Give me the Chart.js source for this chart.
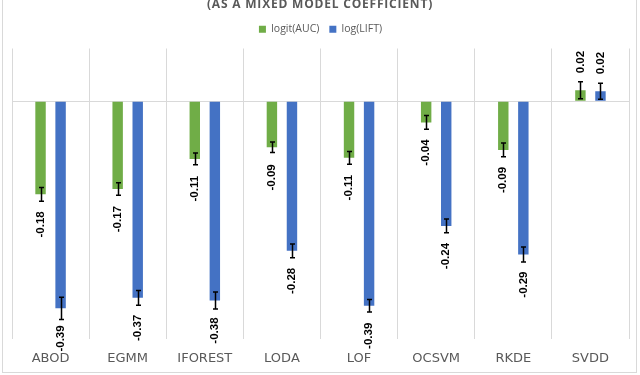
<!DOCTYPE html>
<html>
<head>
<meta charset="utf-8">
<script src="https://cdn.jsdelivr.net/npm/chart.js@4.4.1/dist/chart.umd.min.js"></script>
<style>
  html, body { margin: 0; padding: 0; background: #fff; }
  #wrap { position: relative; width: 640px; height: 375px; }
</style>
</head>
<body>
<div id="wrap"><canvas id="chart" width="640" height="375"></canvas></div>
<script>
const categories = ['ABOD', 'EGMM', 'IFOREST', 'LODA', 'LOF', 'OCSVM', 'RKDE', 'SVDD'];
const seriesNames = ['logit(AUC)', 'log(LIFT)'];
const aucValues = [-0.176, -0.166, -0.109, -0.087, -0.107, -0.040, -0.092, 0.021];
const aucErrors = [0.013, 0.012, 0.011, 0.010, 0.012, 0.013, 0.013, 0.016];
const liftValues = [-0.392, -0.372, -0.377, -0.283, -0.387, -0.236, -0.290, 0.019];
const liftErrors = [0.021, 0.014, 0.016, 0.013, 0.012, 0.013, 0.014, 0.015];
const titleText = '(AS A MIXED MODEL COEFFICIENT)';

const GREEN = '#70AD47';
const BLUE = '#4472C4';
const GRID = '#D9D9D9';
const TEXT = '#595959';

// title + outer frame of the chart
const frameAndTitle = {
    id: 'frameAndTitle',
    afterDraw(chart) {
        const ctx = chart.ctx;
        ctx.save();
        ctx.strokeStyle = GRID;
        ctx.lineWidth = 1;
        ctx.strokeRect(2.5, -2, 634, 374.5);
        ctx.fillStyle = TEXT;
        ctx.font = 'bold 12px "Open Sans"';
        ctx.letterSpacing = '0.8px';
        ctx.textAlign = 'center';
        ctx.textBaseline = 'alphabetic';
        ctx.fillText(titleText, 320, 8);
        ctx.restore();
    }
};

// extra room between legend and plot area
const legendSpacer = {
    id: 'legendSpacer',
    beforeInit(chart) {
        const fit = chart.legend.fit;
        chart.legend.fit = function () {
            fit.bind(chart.legend)();
            this.height += 4;
        };
    }
};

// error bars and rotated value labels
const errorBarsAndLabels = {
    id: 'errorBarsAndLabels',
    afterDatasetsDraw(chart) {
        const ctx = chart.ctx;
        const yScale = chart.scales.y;
        const errs = [aucErrors, liftErrors];
        ctx.save();
        chart.data.datasets.forEach((ds, di) => {
            const meta = chart.getDatasetMeta(di);
            meta.data.forEach((bar, i) => {
                const v = ds.data[i];
                const e = errs[di][i];
                const x = Math.round(bar.x) + 0.5;
                const yTop = yScale.getPixelForValue(v + e);
                const yBot = yScale.getPixelForValue(v - e);
                ctx.strokeStyle = '#000';
                ctx.lineWidth = 1.5;
                ctx.beginPath();
                ctx.moveTo(x, yTop); ctx.lineTo(x, yBot);
                ctx.moveTo(x - 2.5, yTop); ctx.lineTo(x + 2.5, yTop);
                ctx.moveTo(x - 2.5, yBot); ctx.lineTo(x + 2.5, yBot);
                ctx.stroke();

                // label
                ctx.save();
                ctx.fillStyle = '#000';
                ctx.font = 'bold 11.5px "Liberation Sans"';
                ctx.textBaseline = 'middle';
                if (v < 0) {
                    ctx.translate(bar.x, bar.y + 17);
                    ctx.rotate(-Math.PI / 2);
                    ctx.textAlign = 'right';
                } else {
                    ctx.translate(bar.x, bar.y - 17);
                    ctx.rotate(-Math.PI / 2);
                    ctx.textAlign = 'left';
                }
                ctx.fillText(v.toFixed(2), 0, 0);
                ctx.restore();
            });
        });
        ctx.restore();
    }
};

new Chart(document.getElementById('chart'), {
    type: 'bar',
    data: {
        labels: categories,
        datasets: [
            {
                label: seriesNames[0],
                data: aucValues,
                backgroundColor: GREEN,
                categoryPercentage: 0.52,
                barPercentage: 0.52
            },
            {
                label: seriesNames[1],
                data: liftValues,
                backgroundColor: BLUE,
                categoryPercentage: 0.52,
                barPercentage: 0.52
            }
        ]
    },
    options: {
        responsive: false,
        animation: false,
        layout: { padding: { top: 14, left: 12, right: 11, bottom: 8 } },
        plugins: {
            legend: {
                position: 'top',
                labels: {
                    boxWidth: 7,
                    boxHeight: 7,
                    padding: 10,
                    color: TEXT,
                    font: { family: '"Open Sans"', size: 10.5 }
                }
            },
            title: { display: false },
            tooltip: { enabled: false }
        },
        scales: {
            x: {
                afterFit: (scale) => { scale.height = 28; },
                grid: {
                    color: GRID,
                    lineWidth: 1,
                    drawTicks: false
                },
                border: { display: false },
                ticks: {
                    color: TEXT,
                    padding: 12,
                    font: { family: '"DejaVu Sans"', size: 13 }
                }
            },
            y: {
                min: -0.45,
                max: 0.1,
                afterFit: (scale) => { scale.width = 0; },
                grid: {
                    drawTicks: false,
                    color: (c) => (c.tick && Math.abs(c.tick.value) < 1e-9 ? GRID : 'rgba(0,0,0,0)')
                },
                border: { display: false },
                ticks: { display: false, stepSize: 0.05 }
            }
        }
    },
    plugins: [legendSpacer, errorBarsAndLabels, frameAndTitle]
});
</script>
</body>
</html>
